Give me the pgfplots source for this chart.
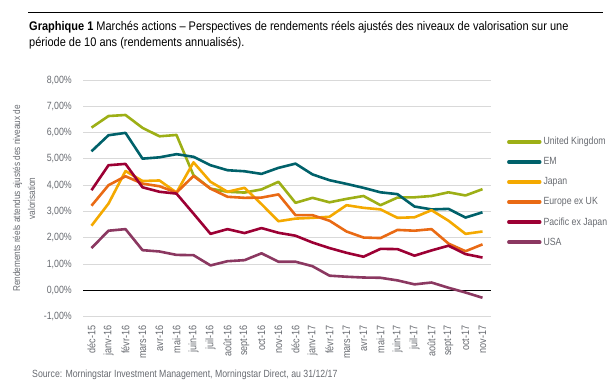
\documentclass[border=0pt]{standalone}
\usepackage{fontspec}
\setmainfont{Liberation Sans}[FakeStretch=0.84]
\newfontfamily\titlefont{Liberation Sans}[FakeStretch=0.88]
\usepackage{pgfplots}
\pgfplotsset{compat=1.18}
\definecolor{cUK}{HTML}{9DAF16}
\definecolor{cEM}{HTML}{00616A}
\definecolor{cJP}{HTML}{F4A900}
\definecolor{cEU}{HTML}{E96A14}
\definecolor{cPA}{HTML}{9C0034}
\definecolor{cUS}{HTML}{8B3861}
\definecolor{cGrid}{HTML}{D9D9D9}
\definecolor{cTxt}{HTML}{676A70}
\begin{document}
\begin{tikzpicture}
\path[use as bounding box] (0,0) rectangle (613bp,-387bp);
\fill[black] (28bp,-11.6bp) rectangle (603bp,-13.2bp);
\node[anchor=base west,inner sep=0pt,font=\titlefont\fontsize{12.5bp}{14bp}\selectfont] at (29bp,-30.7bp)
 {\textbf{Graphique 1} Marchés actions – Perspectives de rendements réels ajustés des niveaux de valorisation sur une};
\node[anchor=base west,inner sep=0pt,font=\titlefont\fontsize{12.5bp}{14bp}\selectfont] at (29bp,-46.5bp)
 {période de 10 ans (rendements annualisés).};
\node[anchor=base west,inner sep=0pt,text=cTxt,font=\fontsize{10.4bp}{11bp}\selectfont] at (32bp,-377bp)
 {Source: Morningstar Investment Management, Morningstar Direct, au 31/12/17};
\begin{axis}[
  at={(83bp,-316.7bp)}, anchor=south west,
  scale only axis, width=408bp, height=236.7bp,
  xmin=-0.5, xmax=23.5, ymin=-1, ymax=8,
  axis line style={draw=none},
  tick style={draw=none},
  ytick={-1,0,...,8},
  xtick={0,...,23},
  xticklabels={déc-15,janv-16,févr-16,mars-16,avr-16,mai-16,juin-16,juil-16,août-16,sept-16,oct-16,nov-16,déc-16,janv-17,févr-17,mars-17,avr-17,mai-17,juin-17,juil-17,août-17,sept-17,oct-17,nov-17},
  x tick label style={rotate=90,anchor=east,text=cTxt,font=\fontsize{10.8bp}{12bp}\selectfont,inner sep=0pt},
  xticklabel shift=8.5bp,
  y tick label style={text=cTxt,font=\fontsize{10.5bp}{12bp}\selectfont,inner sep=0pt},
  yticklabel shift=11bp,
  /pgf/number format/assume math mode=true,
  yticklabel={\pgfmathprintnumber[fixed,fixed zerofill,precision=2,use comma]{\tick}\%},
  ymajorgrids, grid style={cGrid,line width=0.9bp},
  major tick length=0pt,
  clip=false,
  every axis plot/.append style={line width=2.6bp,line join=round,mark=none},
  legend style={at={(1.039,0.527)},anchor=west,draw=none,fill=none,
    font=\fontsize{10.4bp}{12bp}\selectfont,text=cTxt,row sep=7.3bp,inner sep=0pt,
    /tikz/every even column/.style={column sep=0pt}},
  legend cell align=left,
  legend image code/.code={\draw[#1,line width=3.4bp,line cap=round] (0bp,0bp) -- (31bp,0bp);},
  ylabel style={text=cTxt,font=\fontsize{9.8bp}{15bp}\selectfont,align=center,yshift=5bp},
  ylabel={Rendements réels attendus ajustés des niveaux de\\valorisation},
]
\draw[black,line width=1bp] (axis cs:-0.5,0) -- (axis cs:23.5,0);
\addplot[cUK] coordinates {(0,6.19)(1,6.63)(2,6.67)(3,6.18)(4,5.86)(5,5.91)(6,4.38)(7,3.87)(8,3.75)(9,3.72)(10,3.84)(11,4.13)(12,3.33)(13,3.52)(14,3.35)(15,3.48)(16,3.59)(17,3.24)(18,3.53)(19,3.54)(20,3.59)(21,3.73)(22,3.61)(23,3.85)};
\addlegendentry{United Kingdom}
\addplot[cEM] coordinates {(0,5.29)(1,5.90)(2,5.99)(3,5.01)(4,5.06)(5,5.18)(6,5.08)(7,4.76)(8,4.57)(9,4.53)(10,4.43)(11,4.66)(12,4.82)(13,4.41)(14,4.19)(15,4.05)(16,3.90)(17,3.73)(18,3.66)(19,3.19)(20,3.08)(21,3.10)(22,2.77)(23,2.97)};
\addlegendentry{EM}
\addplot[cJP] coordinates {(0,2.46)(1,3.30)(2,4.54)(3,4.16)(4,4.18)(5,3.72)(6,4.87)(7,4.13)(8,3.75)(9,3.90)(10,3.28)(11,2.63)(12,2.73)(13,2.76)(14,2.80)(15,3.24)(16,3.14)(17,3.08)(18,2.76)(19,2.78)(20,3.05)(21,2.65)(22,2.15)(23,2.24)};
\addlegendentry{Japan}
\addplot[cEU] coordinates {(0,3.22)(1,4.00)(2,4.34)(3,4.06)(4,3.96)(5,3.72)(6,4.35)(7,3.87)(8,3.56)(9,3.52)(10,3.53)(11,3.65)(12,2.86)(13,2.86)(14,2.65)(15,2.24)(16,2.01)(17,1.99)(18,2.30)(19,2.27)(20,2.33)(21,1.78)(22,1.49)(23,1.75)};
\addlegendentry{Europe ex UK}
\addplot[cPA] coordinates {(0,3.81)(1,4.76)(2,4.81)(3,3.92)(4,3.75)(5,3.68)(6,2.92)(7,2.15)(8,2.33)(9,2.18)(10,2.37)(11,2.19)(12,2.08)(13,1.82)(14,1.61)(15,1.43)(16,1.28)(17,1.58)(18,1.57)(19,1.32)(20,1.52)(21,1.70)(22,1.38)(23,1.25)};
\addlegendentry{Pacific ex Japan}
\addplot[cUS] coordinates {(0,1.61)(1,2.27)(2,2.33)(3,1.53)(4,1.48)(5,1.35)(6,1.34)(7,0.95)(8,1.11)(9,1.15)(10,1.41)(11,1.09)(12,1.09)(13,0.92)(14,0.56)(15,0.52)(16,0.49)(17,0.48)(18,0.38)(19,0.23)(20,0.30)(21,0.10)(22,-0.08)(23,-0.28)};
\addlegendentry{USA}
\end{axis}
\end{tikzpicture}
\end{document}
